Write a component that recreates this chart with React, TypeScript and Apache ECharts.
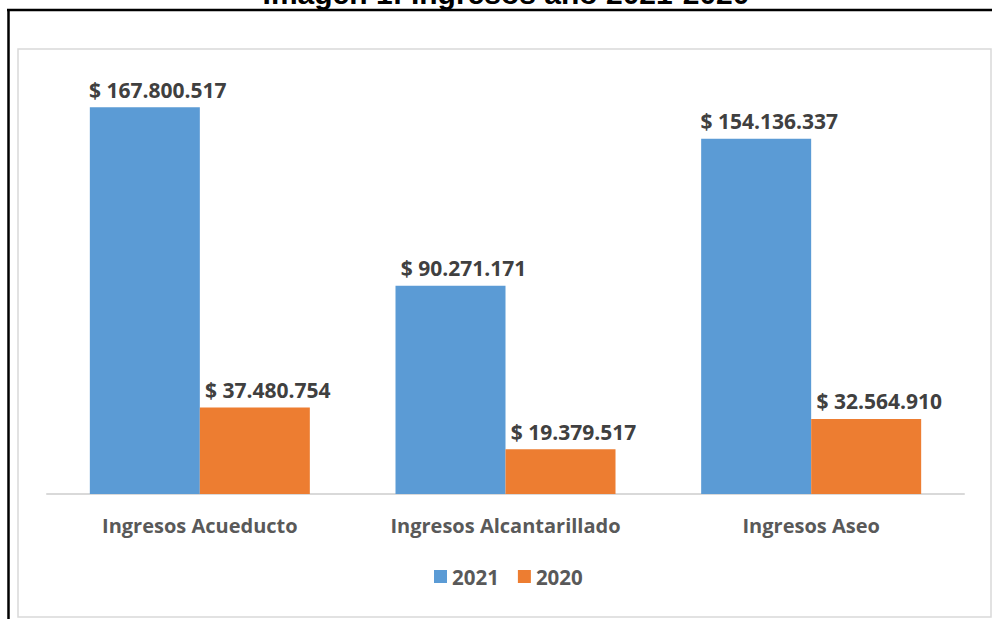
import React, { useEffect, useRef } from "react";
import * as echarts from "echarts";

const categories = ["Ingresos Acueducto", "Ingresos Alcantarillado", "Ingresos Aseo"];
const seriesNames = ["2021", "2020"];
const values2021 = [167800517, 90271171, 154136337];
const values2020 = [37480754, 19379517, 32564910];
const titleText = "Imagen 1: Ingresos año 2021-2020";

const fmt = (v: number) =>
  "$ " + String(Math.round(v)).replace(/\B(?=(\d{3})+(?!\d))/g, ".");

export default function App() {
  const ref = useRef<HTMLDivElement>(null);
  useEffect(() => {
    if (!ref.current) return;
    const chart = echarts.init(ref.current, undefined, { renderer: "svg" });
    const labelStyle = {
      show: true,
      position: "top" as const,
      distance: 7,
      offset: [13, 0],
      formatter: (p: any) => fmt(p.value),
      color: "#404040",
      fontFamily: "Open Sans",
      fontWeight: "bold" as const,
      fontSize: 21,
    };
    chart.setOption({
      animation: false,
      backgroundColor: "#ffffff",
      graphic: [
        {
          type: "rect",
          shape: { x: 18, y: 49, width: 973, height: 568 },
          style: { fill: "none", stroke: "#d9d9d9", lineWidth: 1.5 },
          silent: true,
        },
        {
          type: "line",
          shape: { x1: 8.5, y1: 10, x2: 8.5, y2: 619 },
          style: { stroke: "#000000", lineWidth: 2.5 },
          silent: true,
        },
        {
          type: "line",
          shape: { x1: 7, y1: 10, x2: 992, y2: 10 },
          style: { stroke: "#000000", lineWidth: 2.5 },
          silent: true,
        },
        {
          type: "text",
          style: {
            x: 506,
            y: -7,
            text: titleText,
            align: "center",
            verticalAlign: "middle",
            fontFamily: "Liberation Sans",
            fontWeight: "bold",
            fontSize: 30,
            fill: "#000000",
          },
          silent: true,
        },
      ],
      legend: {
        data: seriesNames,
        bottom: 27,
        left: 429,
        itemWidth: 13,
        itemHeight: 13,
        itemGap: 19,
        icon: "rect",
        textStyle: {
          color: "#595959",
          fontFamily: "Open Sans",
          fontWeight: "bold",
          fontSize: 20.5,
        },
      },
      grid: { left: 47, right: 28, top: 79, bottom: 125, containLabel: false },
      xAxis: {
        type: "category",
        data: categories,
        axisLine: { lineStyle: { color: "#d9d9d9", width: 2 } },
        axisTick: { show: false },
        axisLabel: {
          color: "#595959",
          fontFamily: "Open Sans",
          fontWeight: "bold",
          fontSize: 20,
          margin: 21,
        },
      },
      yAxis: {
        type: "value",
        min: 0,
        max: 180000000,
        show: false,
        splitLine: { show: false },
      },
      series: [
        {
          name: seriesNames[0],
          type: "bar",
          data: values2021,
          barWidth: 110,
          barGap: "0%",
          itemStyle: { color: "#5b9bd5" },
          label: labelStyle,
        },
        {
          name: seriesNames[1],
          type: "bar",
          data: values2020,
          barWidth: 110,
          barGap: "0%",
          itemStyle: { color: "#ed7d31" },
          label: labelStyle,
        },
      ],
    });
    return () => chart.dispose();
  }, []);
  return (
    <div
      ref={ref}
      style={{ position: "fixed", left: 0, top: 0, width: 992, height: 619 }}
    />
  );
}
